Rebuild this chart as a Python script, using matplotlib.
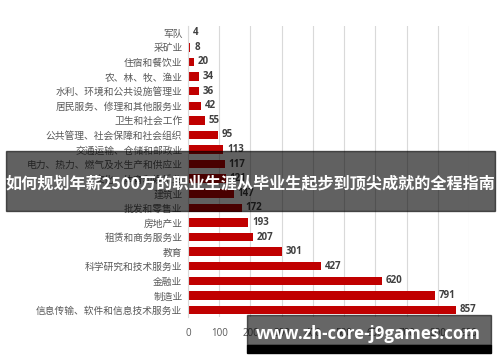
import matplotlib.pyplot as plt
from matplotlib.patches import Rectangle

plt.rcParams['font.family'] = ['Noto Sans CJK SC', 'DejaVu Sans']

# 行业与人数（从上到下）
hangye = ['军队', '采矿业', '住宿和餐饮业', '农、林、牧、渔业', '水利、环境和公共设施管理业',
          '居民服务、修理和其他服务业', '卫生和社会工作', '公共管理、社会保障和社会组织',
          '交通运输、仓储和邮政业', '电力、热力、燃气及水生产和供应业', '文化、体育和娱乐业',
          '建筑业', '批发和零售业', '房地产业', '租赁和商务服务业', '教育',
          '科学研究和技术服务业', '金融业', '制造业', '信息传输、软件和信息技术服务业']
liczby = [4, 8, 20, 34, 36, 42, 55, 95, 113, 117, 121, 147, 172, 193, 207, 301,
          427, 620, 791, 857]
ticki = [0, 100, 200, 300, 400, 500, 600, 700, 800, 900]

tytul = '如何规划年薪2500万的职业生涯从毕业生起步到顶尖成就的全程指南'
znak = 'www.zh-core-j9games.com'

fig = plt.figure(figsize=(5, 3.62), dpi=100)
ax = fig.add_axes([0.376, 0.1235, 0.562, 0.806])

y = list(range(len(hangye)))
ax.barh(y, liczby, height=0.58, color='#C00000', zorder=2)
for yi, v in zip(y, liczby):
    ax.text(v + 12, yi, str(v), va='center', ha='left', fontsize=7,
            fontweight='bold', color='#404040', family=['Open Sans', 'DejaVu Sans'])

ax.set_ylim(len(hangye) - 0.5, -0.5)
ax.set_xlim(0, 900)
ax.set_yticks(y)
ax.set_yticklabels(hangye, fontsize=7, color='#595959')
ax.set_xticks(ticki)
ax.set_xticklabels([str(t) for t in ticki], fontsize=7, color='#595959',
                   family=['Open Sans', 'DejaVu Sans'])
ax.tick_params(length=0, pad=4)
ax.tick_params(axis='x', pad=8)
ax.grid(axis='x', color='#D9D9D9', linewidth=0.8, zorder=0)
for s in ['top', 'right', 'bottom']:
    ax.spines[s].set_visible(False)
ax.spines['left'].set_color('#D9D9D9')

# Baner z tytułem
fig.patches.append(Rectangle((6 / 500, 1 - 211 / 362), 489 / 500, 60 / 362,
                             transform=fig.transFigure, color='black', alpha=0.62,
                             zorder=5))
fig.text(250 / 500, 1 - 183 / 362, tytul, ha='center', va='center', color='white',
         fontsize=11.6, fontweight='bold', zorder=6)

# Znak wodny
fig.patches.append(Rectangle((247 / 500, 1 - 345 / 362), 244 / 500, 30 / 362,
                             transform=fig.transFigure, color='black', alpha=0.6,
                             zorder=5))
fig.patches.append(Rectangle((247 / 500, 1 - 353 / 362), 244 / 500, 8 / 362,
                             transform=fig.transFigure, color='black', zorder=5))
fig.text(368 / 500, 1 - 334 / 362, znak, ha='center', va='center', color='white',
         fontsize=12.2, fontweight='bold', zorder=6, family=['Open Sans', 'DejaVu Sans'])

fig.savefig('out.png', dpi=100)
